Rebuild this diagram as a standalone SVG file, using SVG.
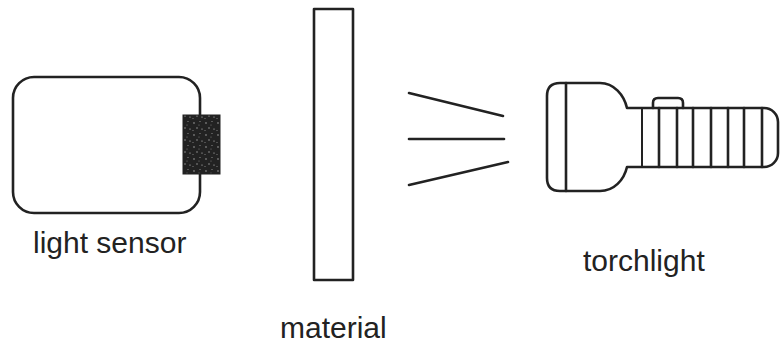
<svg xmlns="http://www.w3.org/2000/svg" width="781" height="343" viewBox="0 0 781 343">
  <style>
    .ink { fill: none; stroke: #222; stroke-width: 2.6; stroke-linejoin: round; stroke-linecap: round; }
    .label { font-family: "Liberation Sans", Arial, sans-serif; font-size: 30px; fill: #222; }
  </style>
  <defs>
    <!-- grainy texture for the sensor window -->
    <pattern id="grain" width="12" height="12" patternUnits="userSpaceOnUse">
      <rect width="12" height="12" fill="#222"/>
      <circle cx="2" cy="3" r="0.7" fill="#bbb"/>
      <circle cx="8" cy="1.5" r="0.6" fill="#999"/>
      <circle cx="5" cy="8" r="0.7" fill="#aaa"/>
      <circle cx="10" cy="9" r="0.6" fill="#ccc"/>
      <circle cx="1" cy="10.5" r="0.5" fill="#999"/>
      <circle cx="7" cy="5" r="0.5" fill="#888"/>
    </pattern>
  </defs>
  <rect width="781" height="343" fill="#fff"/>

  <g id="light-sensor">
    <rect class="ink" x="13" y="77" width="187" height="136" rx="21"/>
    <rect x="183" y="115" width="37" height="59" fill="url(#grain)" stroke="#222" stroke-width="1"/>
    <text class="label" x="33" y="253">light sensor</text>
  </g>

  <g id="material">
    <rect class="ink" x="314" y="9" width="39" height="271"/>
    <text class="label" x="280" y="338">material</text>
  </g>

  <g id="connectors">
    <line class="ink" x1="409" y1="93" x2="503" y2="116"/>
    <line class="ink" x1="409" y1="139" x2="504" y2="139"/>
    <line class="ink" x1="409" y1="185" x2="508" y2="162"/>
  </g>

  <g id="torchlight">
    <path class="ink" d="M 560 83 H 600 C 614 83 624 95 627 108 H 764 A 14 14 0 0 1 778 122 V 153 A 14 14 0 0 1 764 167 H 627 C 624 180 614 191 600 191 H 560 Q 547 191 547 178 V 96 Q 547 83 560 83 Z"/>
    <line class="ink" x1="566" y1="83" x2="566" y2="191"/>
    <path class="ink" d="M 653 108 V 103 Q 653 98 658 98 H 678 Q 683 98 683 103 V 108"/>
    <g class="ink">
      <line x1="642" y1="108" x2="642" y2="167" stroke-width="2"/>
      <line x1="659" y1="108" x2="659" y2="167"/>
      <line x1="677" y1="108" x2="677" y2="167"/>
      <line x1="693" y1="108" x2="693" y2="167"/>
      <line x1="711" y1="108" x2="711" y2="167"/>
      <line x1="728" y1="108" x2="728" y2="167"/>
      <line x1="744" y1="108" x2="744" y2="167"/>
      <line x1="762" y1="108" x2="762" y2="167"/>
    </g>
    <text class="label" x="583" y="271">torchlight</text>
  </g>
</svg>
